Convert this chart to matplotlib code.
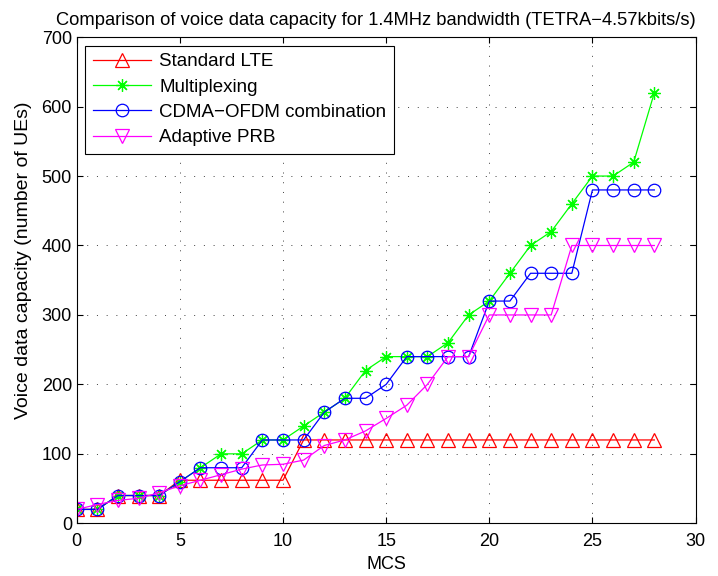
import numpy as np
import matplotlib
matplotlib.use("Agg")
import matplotlib.pyplot as plt

plt.rcParams['font.family'] = ['Liberation Sans', 'DejaVu Sans']

# MCS index
mcs = list(range(29))

# Voice data capacity (number of UEs)
standard_lte = [20, 20, 40, 40, 40, 62, 62, 62, 62, 62, 62, 120, 120, 120, 120,
                120, 120, 120, 120, 120, 120, 120, 120, 120, 120, 120, 120, 120, 120]
multiplexing = [20, 20, 40, 40, 40, 60, 80, 100, 100, 120, 120, 140, 160, 180, 220,
                240, 240, 240, 260, 300, 320, 360, 400, 420, 460, 500, 500, 520, 620]
cdma_ofdm = [20, 20, 40, 40, 40, 60, 80, 80, 80, 120, 120, 120, 160, 180, 180,
             200, 240, 240, 240, 240, 320, 320, 360, 360, 360, 480, 480, 480, 480]
adaptive_prb = [20, 27, 33, 36, 44, 54, 62, 70, 78, 84, 85, 91, 112, 120, 133,
                151, 170, 200, 240, 240, 300, 300, 300, 300, 400, 400, 400, 400, 400]

fig = plt.figure(figsize=(7.18, 5.76), dpi=100)
ax = fig.add_axes([0.1068, 0.0915, 0.862, 0.844])

lw = 0.9
ax.plot(mcs, standard_lte, color=(1, 0, 0), marker='^', ms=9.5, mfc='none', lw=lw, mew=0.9,
        label='Standard LTE')
ax.plot(mcs, multiplexing, color=(0, 1, 0), marker=(8, 2, 0), ms=9, lw=lw, mew=0.9,
        label='Multiplexing')
ax.plot(mcs, cdma_ofdm, color=(0, 0, 1), marker='o', ms=9, mfc='none', lw=lw, mew=0.9,
        label='CDMA\u2212OFDM combination')
ax.plot(mcs, adaptive_prb, color=(1, 0, 1), marker='v', ms=9.5, mfc='none', lw=lw, mew=0.9,
        label='Adaptive PRB')

ax.set_xlim(0, 30)
ax.set_ylim(0, 700)
ax.set_xticks(range(0, 31, 5))
ax.set_yticks(range(0, 701, 100))
ax.tick_params(direction='in', top=True, right=True, labelsize=13, length=4)
ax.tick_params(axis='x', pad=7)
ax.tick_params(axis='y', pad=3.4)
ax.grid(True, color='0.25', linestyle=(0, (1, 9)), linewidth=0.7)
for s in ax.spines.values():
    s.set_linewidth(0.8)

ax.set_xlabel('MCS', fontsize=13, labelpad=4)
ax.set_ylabel('Voice data capacity (number of UEs)', fontsize=14)
ax.yaxis.set_label_coords(-0.072, 0.542)
ax.set_title('Comparison of voice data capacity for 1.4MHz bandwidth (TETRA\u22124.57kbits/s)',
             fontsize=13.2, pad=9, x=0.4835)

leg = ax.legend(loc='upper left', fontsize=13.5, fancybox=False, framealpha=1,
                edgecolor='black', borderaxespad=0.45, handlelength=3.1, handletextpad=0.45,
                labelspacing=0.44, borderpad=0.4)
leg.get_frame().set_linewidth(0.8)

fig.savefig('out.png', dpi=100)
